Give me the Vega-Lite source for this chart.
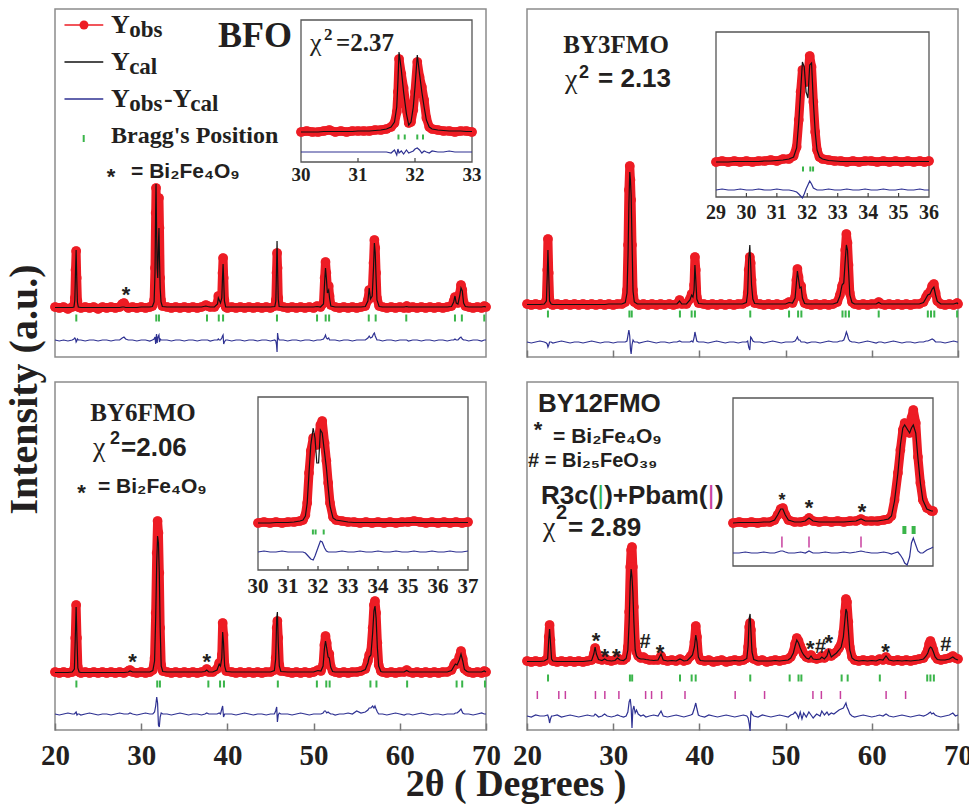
{
"$schema":"https://vega.github.io/schema/vega-lite/v6.json",
"padding":{"left":4,"top":8,"right":0,"bottom":0},
"background":"white",
"config":{"view":{"stroke":"#8c8c8c","strokeWidth":1.5}},
"datasets":{
"tl":[
{"x":20,"o":1,"c":0.5,"d":-32},{"x":20.5,"o":0,"c":0.5,"d":-33},{"x":21,"o":1,"c":0.5,"d":-32},{"x":21.5,"o":-1,"c":0.5,"d":-33},{"x":22,"o":1,"c":0.5,"d":-32},{"x":22.2,"o":2,"c":1,"d":-31},{"x":22.3,"o":10,"c":8,"d":-30},{"x":22.38,"o":38,"c":36,"d":-31},{"x":22.45,"o":57,"c":58,"d":-34},{"x":22.52,"o":30,"c":31,"d":-33},{"x":22.6,"o":7,"c":6,"d":-31},{"x":22.7,"o":1,"c":1,"d":-32},
{"x":23,"o":0,"c":0.5,"d":-32},{"x":23.5,"o":1,"c":0.5,"d":-33},{"x":24,"o":0,"c":0.5,"d":-32},{"x":24.5,"o":1,"c":0.5,"d":-32},{"x":25,"o":-1,"c":0.5,"d":-33},{"x":25.5,"o":1,"c":0.5,"d":-32},{"x":26,"o":0,"c":0.5,"d":-32},{"x":26.5,"o":1,"c":0.5,"d":-33},{"x":27,"o":0,"c":0.5,"d":-32},{"x":27.5,"o":1,"c":0.5,"d":-32},{"x":27.8,"o":4,"c":1,"d":-30},{"x":28,"o":5,"c":1,"d":-29},{"x":28.2,"o":2,"c":0.5,"d":-31},{"x":28.5,"o":0,"c":0.5,"d":-32},{"x":29,"o":1,"c":0.5,"d":-32},{"x":29.5,"o":0,"c":0.5,"d":-33},{"x":30,"o":1,"c":1,"d":-32},{"x":30.5,"o":0,"c":1,"d":-32},{"x":31,"o":1,"c":1,"d":-33},{"x":31.3,"o":2,"c":1.5,"d":-32},
{"x":31.5,"o":8,"c":6,"d":-31},{"x":31.6,"o":40,"c":35,"d":-29},{"x":31.68,"o":95,"c":100,"d":-36},{"x":31.72,"o":120,"c":124,"d":-30},{"x":31.78,"o":90,"c":80,"d":-26},{"x":31.85,"o":55,"c":40,"d":-35},{"x":31.92,"o":45,"c":30,"d":-30},{"x":32,"o":75,"c":65,"d":-28},{"x":32.06,"o":110,"c":80,"d":-27},{"x":32.12,"o":80,"c":50,"d":-34},{"x":32.2,"o":30,"c":20,"d":-31},{"x":32.3,"o":8,"c":6,"d":-32},{"x":32.45,"o":2,"c":1.5,"d":-32},
{"x":33,"o":1,"c":1,"d":-32},{"x":33.5,"o":0,"c":1,"d":-33},{"x":34,"o":1,"c":1,"d":-32},{"x":34.5,"o":0,"c":1,"d":-32},{"x":35,"o":1,"c":1,"d":-33},{"x":35.5,"o":0,"c":1,"d":-32},{"x":36,"o":1,"c":1,"d":-32},{"x":36.5,"o":0,"c":1,"d":-33},{"x":37,"o":1,"c":1,"d":-32},{"x":37.5,"o":3,"c":2,"d":-32},{"x":37.7,"o":2,"c":1.5,"d":-32},{"x":38,"o":1,"c":1,"d":-33},{"x":38.5,"o":1,"c":1,"d":-32},
{"x":38.85,"o":5,"c":4,"d":-32},{"x":38.95,"o":12,"c":10,"d":-31},{"x":39.05,"o":9,"c":8,"d":-32},{"x":39.2,"o":6,"c":5,"d":-32},{"x":39.35,"o":12,"c":10,"d":-30},{"x":39.43,"o":35,"c":30,"d":-28},{"x":39.5,"o":50,"c":44,"d":-27},{"x":39.57,"o":30,"c":28,"d":-36},{"x":39.65,"o":8,"c":7,"d":-34},{"x":39.8,"o":1,"c":1,"d":-32},
{"x":40,"o":0,"c":1,"d":-32},{"x":40.5,"o":1,"c":1,"d":-33},{"x":41,"o":0,"c":1,"d":-32},{"x":41.5,"o":1,"c":1,"d":-32},{"x":42,"o":0,"c":1,"d":-33},{"x":42.5,"o":1,"c":1,"d":-32},{"x":43,"o":0,"c":1,"d":-32},{"x":43.5,"o":1,"c":1,"d":-33},{"x":44,"o":0,"c":1,"d":-32},{"x":44.5,"o":1,"c":1,"d":-32},{"x":45,"o":0,"c":1,"d":-33},{"x":45.5,"o":2,"c":1.5,"d":-32},
{"x":45.62,"o":8,"c":7,"d":-33},{"x":45.7,"o":35,"c":40,"d":-37},{"x":45.76,"o":55,"c":67,"d":-44},{"x":45.82,"o":40,"c":40,"d":-25},{"x":45.9,"o":10,"c":9,"d":-30},{"x":46,"o":2,"c":1.5,"d":-32},
{"x":46.5,"o":1,"c":1,"d":-32},{"x":47,"o":0,"c":1,"d":-33},{"x":47.5,"o":1,"c":1,"d":-32},{"x":48,"o":0,"c":1,"d":-32},{"x":48.5,"o":1,"c":1,"d":-33},{"x":49,"o":0,"c":1,"d":-32},{"x":49.5,"o":1,"c":1,"d":-32},{"x":50,"o":0,"c":1,"d":-33},{"x":50.4,"o":2,"c":1.5,"d":-32},{"x":50.8,"o":1,"c":1,"d":-32},
{"x":51.15,"o":5,"c":4,"d":-31},{"x":51.28,"o":30,"c":26,"d":-29},{"x":51.38,"o":46,"c":40,"d":-27},{"x":51.48,"o":35,"c":30,"d":-30},{"x":51.6,"o":20,"c":15,"d":-31},{"x":51.75,"o":22,"c":18,"d":-30},{"x":51.85,"o":12,"c":10,"d":-32},{"x":52,"o":3,"c":2,"d":-32},
{"x":52.5,"o":1,"c":1,"d":-32},{"x":53,"o":0,"c":1,"d":-33},{"x":53.5,"o":1,"c":1,"d":-32},{"x":54,"o":0,"c":1,"d":-32},{"x":54.5,"o":1,"c":1,"d":-33},{"x":55,"o":0,"c":1,"d":-32},{"x":55.5,"o":1,"c":1,"d":-32},{"x":56,"o":2,"c":1.5,"d":-32},
{"x":56.3,"o":8,"c":7,"d":-30},{"x":56.45,"o":18,"c":20,"d":-28},{"x":56.6,"o":10,"c":9,"d":-30},{"x":56.8,"o":15,"c":12,"d":-29},{"x":56.95,"o":45,"c":40,"d":-26},{"x":57.05,"o":68,"c":65,"d":-25},{"x":57.15,"o":60,"c":55,"d":-28},{"x":57.25,"o":35,"c":30,"d":-30},{"x":57.35,"o":10,"c":8,"d":-32},{"x":57.6,"o":2,"c":1.5,"d":-32},
{"x":58,"o":1,"c":1,"d":-33},{"x":58.5,"o":0,"c":1,"d":-32},{"x":59,"o":1,"c":1,"d":-32},{"x":59.5,"o":0,"c":1,"d":-33},{"x":60,"o":1,"c":1,"d":-32},{"x":60.5,"o":0,"c":1,"d":-32},{"x":60.8,"o":2,"c":1.5,"d":-32},{"x":61,"o":0,"c":1,"d":-33},{"x":61.5,"o":1,"c":1,"d":-32},{"x":62,"o":0,"c":1,"d":-32},{"x":62.5,"o":1,"c":1,"d":-33},{"x":63,"o":0,"c":1,"d":-32},{"x":63.5,"o":1,"c":1,"d":-32},{"x":64,"o":0,"c":1,"d":-33},{"x":64.5,"o":1,"c":1,"d":-32},{"x":65,"o":0,"c":1,"d":-32},{"x":65.5,"o":1,"c":1,"d":-33},{"x":66,"o":2,"c":1.5,"d":-32},
{"x":66.25,"o":7,"c":6,"d":-32},{"x":66.4,"o":11,"c":12,"d":-31},{"x":66.55,"o":6,"c":5,"d":-32},{"x":66.75,"o":5,"c":4,"d":-32},{"x":66.95,"o":14,"c":12,"d":-30},{"x":67.1,"o":23,"c":20,"d":-29},{"x":67.25,"o":18,"c":17,"d":-31},{"x":67.4,"o":6,"c":5,"d":-32},{"x":67.6,"o":2,"c":1.5,"d":-32},
{"x":68,"o":1,"c":1,"d":-33},{"x":68.5,"o":0,"c":1,"d":-32},{"x":69,"o":1,"c":1,"d":-32},{"x":69.5,"o":0,"c":1,"d":-33},{"x":69.8,"o":2,"c":1.5,"d":-32},{"x":70,"o":1,"c":1,"d":-32}],
"tr":[
{"x":20,"o":1,"c":0.5,"d":-37},{"x":20.5,"o":0,"c":0.5,"d":-38},{"x":21,"o":1,"c":0.5,"d":-37},{"x":21.5,"o":0,"c":0.5,"d":-36},{"x":22,"o":1,"c":1,"d":-37},{"x":22.25,"o":5,"c":4,"d":-38},{"x":22.35,"o":35,"c":30,"d":-39},{"x":22.43,"o":66,"c":55,"d":-42},{"x":22.52,"o":32,"c":30,"d":-40},{"x":22.62,"o":5,"c":4,"d":-37},{"x":22.8,"o":1,"c":1,"d":-37},
{"x":23,"o":0,"c":0.5,"d":-38},{"x":23.5,"o":1,"c":0.5,"d":-37},{"x":24,"o":0,"c":0.5,"d":-36},{"x":24.5,"o":1,"c":0.5,"d":-37},{"x":25,"o":0,"c":0.5,"d":-38},{"x":25.5,"o":1,"c":0.5,"d":-37},{"x":26,"o":0,"c":0.5,"d":-37},{"x":26.5,"o":1,"c":0.5,"d":-38},{"x":27,"o":0,"c":0.5,"d":-37},{"x":27.5,"o":1,"c":0.5,"d":-36},{"x":28,"o":0,"c":0.5,"d":-37},{"x":28.5,"o":1,"c":0.5,"d":-38},{"x":29,"o":0,"c":0.5,"d":-37},{"x":29.5,"o":1,"c":1,"d":-37},{"x":30,"o":0,"c":1,"d":-38},{"x":30.5,"o":1,"c":1,"d":-37},{"x":31,"o":1,"c":1,"d":-37},
{"x":31.4,"o":3,"c":2.5,"d":-37},{"x":31.6,"o":15,"c":12,"d":-36},{"x":31.72,"o":60,"c":50,"d":-30},{"x":31.82,"o":115,"c":100,"d":-25},{"x":31.92,"o":139,"c":133,"d":-31},{"x":32,"o":125,"c":125,"d":-44},{"x":32.08,"o":105,"c":110,"d":-49},{"x":32.18,"o":60,"c":65,"d":-40},{"x":32.3,"o":15,"c":14,"d":-35},{"x":32.45,"o":3,"c":3,"d":-37},
{"x":32.8,"o":1,"c":1,"d":-37},{"x":33,"o":0,"c":1,"d":-38},{"x":33.5,"o":1,"c":1,"d":-37},{"x":34,"o":0,"c":1,"d":-36},{"x":34.5,"o":1,"c":1,"d":-37},{"x":35,"o":0,"c":1,"d":-38},{"x":35.5,"o":1,"c":1,"d":-37},{"x":36,"o":0,"c":1,"d":-37},{"x":36.5,"o":1,"c":1,"d":-38},{"x":37,"o":0,"c":1,"d":-37},{"x":37.4,"o":1,"c":1,"d":-37},{"x":37.7,"o":5,"c":4,"d":-36},{"x":37.95,"o":1,"c":1,"d":-37},{"x":38.5,"o":1,"c":1,"d":-37},
{"x":38.9,"o":6,"c":5,"d":-37},{"x":39.1,"o":11,"c":10,"d":-36},{"x":39.25,"o":8,"c":8,"d":-37},{"x":39.38,"o":20,"c":15,"d":-33},{"x":39.48,"o":48,"c":40,"d":-27},{"x":39.58,"o":35,"c":25,"d":-31},{"x":39.7,"o":8,"c":6,"d":-36},{"x":39.9,"o":2,"c":1.5,"d":-37},
{"x":40.5,"o":1,"c":1,"d":-37},{"x":41,"o":0,"c":1,"d":-38},{"x":41.5,"o":1,"c":1,"d":-37},{"x":42,"o":0,"c":1,"d":-36},{"x":42.5,"o":1,"c":1,"d":-37},{"x":43,"o":0,"c":1,"d":-38},{"x":43.5,"o":1,"c":1,"d":-37},{"x":44,"o":0,"c":1,"d":-37},{"x":44.5,"o":1,"c":1,"d":-38},{"x":45,"o":1,"c":1,"d":-37},
{"x":45.45,"o":3,"c":2.5,"d":-37},{"x":45.6,"o":12,"c":12,"d":-36},{"x":45.72,"o":35,"c":45,"d":-42},{"x":45.85,"o":48,"c":60,"d":-45},{"x":45.95,"o":42,"c":40,"d":-32},{"x":46.05,"o":25,"c":20,"d":-33},{"x":46.2,"o":8,"c":6,"d":-36},{"x":46.4,"o":2,"c":1.5,"d":-37},
{"x":47,"o":1,"c":1,"d":-37},{"x":47.5,"o":0,"c":1,"d":-38},{"x":48,"o":1,"c":1,"d":-37},{"x":48.5,"o":0,"c":1,"d":-36},{"x":49,"o":1,"c":1,"d":-37},{"x":49.5,"o":0,"c":1,"d":-38},{"x":50,"o":1,"c":1,"d":-37},{"x":50.4,"o":3,"c":2.5,"d":-37},{"x":50.8,"o":2,"c":2,"d":-37},
{"x":51.1,"o":8,"c":7,"d":-36},{"x":51.25,"o":25,"c":22,"d":-34},{"x":51.37,"o":36,"c":34,"d":-32},{"x":51.5,"o":28,"c":26,"d":-35},{"x":51.65,"o":20,"c":17,"d":-35},{"x":51.8,"o":19,"c":18,"d":-37},{"x":51.95,"o":8,"c":7,"d":-37},{"x":52.2,"o":2,"c":1.5,"d":-37},
{"x":52.5,"o":1,"c":1,"d":-38},{"x":53,"o":0,"c":1,"d":-37},{"x":53.5,"o":1,"c":1,"d":-37},{"x":54,"o":0,"c":1,"d":-38},{"x":54.5,"o":1,"c":1,"d":-37},{"x":55,"o":0,"c":1,"d":-36},{"x":55.5,"o":1,"c":1,"d":-37},{"x":56,"o":3,"c":2.5,"d":-37},
{"x":56.3,"o":10,"c":9,"d":-36},{"x":56.55,"o":19,"c":20,"d":-36},{"x":56.75,"o":25,"c":22,"d":-35},{"x":56.92,"o":55,"c":45,"d":-31},{"x":57.05,"o":71,"c":60,"d":-27},{"x":57.18,"o":62,"c":55,"d":-30},{"x":57.3,"o":40,"c":35,"d":-34},{"x":57.45,"o":12,"c":10,"d":-36},{"x":57.7,"o":3,"c":2.5,"d":-37},
{"x":58,"o":1,"c":1,"d":-37},{"x":58.5,"o":0,"c":1,"d":-38},{"x":59,"o":1,"c":1,"d":-37},{"x":59.5,"o":0,"c":1,"d":-36},{"x":60,"o":1,"c":1,"d":-37},{"x":60.5,"o":1,"c":1,"d":-38},{"x":60.8,"o":3,"c":2.5,"d":-37},{"x":61.1,"o":1,"c":1,"d":-37},{"x":61.5,"o":0,"c":1,"d":-38},{"x":62,"o":1,"c":1,"d":-37},{"x":62.5,"o":0,"c":1,"d":-36},{"x":63,"o":1,"c":1,"d":-37},{"x":63.5,"o":0,"c":1,"d":-38},{"x":64,"o":1,"c":1,"d":-37},{"x":64.5,"o":0,"c":1,"d":-37},{"x":65,"o":1,"c":1,"d":-38},{"x":65.5,"o":1,"c":1,"d":-37},
{"x":66,"o":3,"c":2.5,"d":-37},{"x":66.3,"o":8,"c":7,"d":-36},{"x":66.5,"o":11,"c":10,"d":-36},{"x":66.75,"o":13,"c":11,"d":-35},{"x":67,"o":19,"c":16,"d":-34},{"x":67.2,"o":21,"c":18,"d":-35},{"x":67.4,"o":12,"c":10,"d":-37},{"x":67.6,"o":4,"c":3.5,"d":-37},
{"x":68,"o":1,"c":1,"d":-37},{"x":68.5,"o":0,"c":1,"d":-38},{"x":69,"o":1,"c":1,"d":-37},{"x":69.5,"o":0,"c":1,"d":-36},{"x":69.9,"o":2,"c":2,"d":-37},{"x":70,"o":1,"c":1,"d":-37}],
"bl":[
{"x":20,"o":1,"c":0.5,"d":-41},{"x":20.5,"o":0,"c":0.5,"d":-42},{"x":21,"o":1,"c":0.5,"d":-41},{"x":21.5,"o":0,"c":0.5,"d":-40},{"x":22,"o":1,"c":1,"d":-41},{"x":22.25,"o":5,"c":4,"d":-41},{"x":22.35,"o":35,"c":34,"d":-40},{"x":22.45,"o":68,"c":66,"d":-39},{"x":22.55,"o":35,"c":33,"d":-42},{"x":22.65,"o":6,"c":5,"d":-41},{"x":22.8,"o":1,"c":1,"d":-41},
{"x":23,"o":0,"c":0.5,"d":-42},{"x":23.5,"o":1,"c":0.5,"d":-41},{"x":24,"o":0,"c":0.5,"d":-40},{"x":24.5,"o":1,"c":0.5,"d":-41},{"x":25,"o":0,"c":0.5,"d":-42},{"x":25.5,"o":1,"c":0.5,"d":-41},{"x":26,"o":0,"c":0.5,"d":-41},{"x":26.5,"o":1,"c":0.5,"d":-42},{"x":27,"o":0,"c":0.5,"d":-41},{"x":27.5,"o":1,"c":0.5,"d":-40},{"x":28,"o":0,"c":0.5,"d":-41},{"x":28.5,"o":2,"c":1,"d":-41},{"x":28.7,"o":3,"c":2,"d":-40},{"x":29,"o":1,"c":1,"d":-41},{"x":29.5,"o":0,"c":1,"d":-42},{"x":30,"o":1,"c":1,"d":-41},{"x":30.5,"o":0,"c":1,"d":-40},{"x":31,"o":1,"c":1,"d":-41},
{"x":31.35,"o":3,"c":2.5,"d":-41},{"x":31.55,"o":15,"c":12,"d":-39},{"x":31.68,"o":60,"c":55,"d":-33},{"x":31.8,"o":120,"c":110,"d":-24},{"x":31.9,"o":152,"c":137,"d":-30},{"x":32,"o":140,"c":130,"d":-52},{"x":32.1,"o":100,"c":100,"d":-54},{"x":32.2,"o":45,"c":45,"d":-44},{"x":32.32,"o":8,"c":7,"d":-40},{"x":32.5,"o":2,"c":1.5,"d":-41},
{"x":33,"o":1,"c":1,"d":-41},{"x":33.5,"o":0,"c":1,"d":-42},{"x":34,"o":1,"c":1,"d":-41},{"x":34.5,"o":0,"c":1,"d":-40},{"x":35,"o":1,"c":1,"d":-41},{"x":35.5,"o":0,"c":1,"d":-42},{"x":36,"o":1,"c":1,"d":-41},{"x":36.5,"o":0,"c":1,"d":-41},{"x":37,"o":1,"c":1,"d":-42},{"x":37.4,"o":2,"c":1.5,"d":-41},{"x":37.6,"o":4,"c":3,"d":-40},{"x":37.85,"o":1,"c":1,"d":-41},{"x":38.3,"o":1,"c":1,"d":-41},
{"x":38.8,"o":4,"c":3,"d":-41},{"x":39.05,"o":10,"c":9,"d":-40},{"x":39.2,"o":8,"c":7,"d":-41},{"x":39.35,"o":18,"c":15,"d":-36},{"x":39.45,"o":50,"c":41,"d":-33},{"x":39.55,"o":38,"c":30,"d":-44},{"x":39.68,"o":8,"c":7,"d":-41},{"x":39.85,"o":2,"c":1.5,"d":-41},
{"x":40.5,"o":1,"c":1,"d":-41},{"x":41,"o":0,"c":1,"d":-42},{"x":41.5,"o":1,"c":1,"d":-41},{"x":42,"o":0,"c":1,"d":-40},{"x":42.5,"o":1,"c":1,"d":-41},{"x":43,"o":0,"c":1,"d":-42},{"x":43.5,"o":1,"c":1,"d":-41},{"x":44,"o":0,"c":1,"d":-41},{"x":44.5,"o":1,"c":1,"d":-42},{"x":45,"o":1,"c":1,"d":-41},
{"x":45.45,"o":3,"c":2.5,"d":-41},{"x":45.6,"o":15,"c":14,"d":-38},{"x":45.72,"o":45,"c":55,"d":-34},{"x":45.8,"o":52,"c":61,"d":-49},{"x":45.9,"o":35,"c":30,"d":-42},{"x":46.02,"o":8,"c":7,"d":-40},{"x":46.2,"o":2,"c":1.5,"d":-41},
{"x":47,"o":1,"c":1,"d":-41},{"x":47.5,"o":0,"c":1,"d":-42},{"x":48,"o":1,"c":1,"d":-41},{"x":48.5,"o":0,"c":1,"d":-40},{"x":49,"o":1,"c":1,"d":-41},{"x":49.5,"o":0,"c":1,"d":-42},{"x":50,"o":1,"c":1,"d":-41},{"x":50.5,"o":3,"c":2.5,"d":-41},{"x":50.85,"o":2,"c":2,"d":-41},
{"x":51.1,"o":8,"c":7,"d":-40},{"x":51.25,"o":28,"c":24,"d":-38},{"x":51.38,"o":37,"c":32,"d":-38},{"x":51.52,"o":30,"c":25,"d":-40},{"x":51.68,"o":20,"c":16,"d":-39},{"x":51.82,"o":19,"c":15,"d":-40},{"x":51.98,"o":7,"c":6,"d":-41},{"x":52.2,"o":2,"c":1.5,"d":-41},
{"x":52.5,"o":1,"c":1,"d":-42},{"x":53,"o":0,"c":1,"d":-41},{"x":53.5,"o":1,"c":1,"d":-41},{"x":54,"o":0,"c":1,"d":-40},{"x":54.5,"o":1,"c":1,"d":-41},{"x":55,"o":1,"c":1,"d":-38},{"x":55.5,"o":2,"c":1.5,"d":-40},{"x":56,"o":4,"c":3.5,"d":-39},
{"x":56.3,"o":12,"c":10,"d":-37},{"x":56.45,"o":18,"c":16,"d":-35},{"x":56.65,"o":22,"c":18,"d":-35},{"x":56.85,"o":45,"c":40,"d":-33},{"x":57,"o":68,"c":62,"d":-35},{"x":57.12,"o":72,"c":67,"d":-33},{"x":57.25,"o":60,"c":55,"d":-36},{"x":57.4,"o":30,"c":25,"d":-39},{"x":57.55,"o":8,"c":7,"d":-41},{"x":57.8,"o":2,"c":1.5,"d":-41},
{"x":58,"o":1,"c":1,"d":-41},{"x":58.5,"o":0,"c":1,"d":-42},{"x":59,"o":1,"c":1,"d":-41},{"x":59.5,"o":0,"c":1,"d":-40},{"x":60,"o":1,"c":1,"d":-41},{"x":60.5,"o":1,"c":1,"d":-42},{"x":60.8,"o":3,"c":2.5,"d":-41},{"x":61.1,"o":1,"c":1,"d":-41},{"x":61.5,"o":0,"c":1,"d":-42},{"x":62,"o":1,"c":1,"d":-41},{"x":62.5,"o":0,"c":1,"d":-40},{"x":63,"o":1,"c":1,"d":-41},{"x":63.5,"o":0,"c":1,"d":-42},{"x":64,"o":1,"c":1,"d":-41},{"x":64.5,"o":0,"c":1,"d":-41},{"x":65,"o":1,"c":1,"d":-42},{"x":65.5,"o":1,"c":1,"d":-41},
{"x":66,"o":3,"c":2.5,"d":-41},{"x":66.3,"o":8,"c":7,"d":-41},{"x":66.45,"o":10,"c":9,"d":-40},{"x":66.65,"o":9,"c":8,"d":-40},{"x":66.9,"o":16,"c":13,"d":-38},{"x":67.1,"o":22,"c":19,"d":-36},{"x":67.3,"o":14,"c":12,"d":-40},{"x":67.5,"o":4,"c":3.5,"d":-41},{"x":67.8,"o":2,"c":1.5,"d":-41},
{"x":68,"o":1,"c":1,"d":-41},{"x":68.5,"o":0,"c":1,"d":-42},{"x":69,"o":1,"c":1,"d":-41},{"x":69.5,"o":0,"c":1,"d":-40},{"x":69.8,"o":2,"c":2,"d":-41},{"x":70,"o":1,"c":1,"d":-41}],
"br":[
{"x":20,"o":1,"c":0.5,"d":-54},{"x":20.5,"o":0,"c":0.5,"d":-55},{"x":21,"o":1,"c":0.5,"d":-53},{"x":21.5,"o":0,"c":0.5,"d":-54},{"x":22,"o":1,"c":1,"d":-54},{"x":22.4,"o":4,"c":3,"d":-53},{"x":22.52,"o":25,"c":22,"d":-56},{"x":22.62,"o":37,"c":33,"d":-61},{"x":22.72,"o":22,"c":20,"d":-57},{"x":22.85,"o":4,"c":3,"d":-54},
{"x":23,"o":1,"c":1,"d":-54},{"x":23.5,"o":0,"c":0.5,"d":-53},{"x":24,"o":1,"c":0.5,"d":-55},{"x":24.5,"o":0,"c":0.5,"d":-54},{"x":25,"o":1,"c":0.5,"d":-53},{"x":25.5,"o":0,"c":0.5,"d":-54},{"x":26,"o":1,"c":0.5,"d":-55},{"x":26.5,"o":0,"c":0.5,"d":-54},{"x":27,"o":1,"c":1,"d":-53},{"x":27.5,"o":2,"c":1.5,"d":-54},
{"x":27.75,"o":8,"c":8,"d":-54},{"x":27.9,"o":14,"c":15,"d":-52},{"x":28.05,"o":9,"c":8,"d":-53},{"x":28.3,"o":3,"c":2.5,"d":-55},{"x":28.7,"o":2,"c":1.5,"d":-54},{"x":29,"o":4,"c":3,"d":-52},{"x":29.3,"o":2,"c":1.5,"d":-54},{"x":29.8,"o":1,"c":1,"d":-55},{"x":30.2,"o":2,"c":1.5,"d":-54},{"x":30.5,"o":4,"c":4,"d":-53},{"x":30.8,"o":2,"c":2,"d":-54},{"x":31.2,"o":2,"c":1.5,"d":-55},
{"x":31.5,"o":4,"c":3.5,"d":-54},{"x":31.7,"o":15,"c":12,"d":-50},{"x":31.85,"o":50,"c":40,"d":-40},{"x":31.98,"o":95,"c":80,"d":-37},{"x":32.08,"o":112,"c":93,"d":-45},{"x":32.18,"o":115,"c":85,"d":-66},{"x":32.28,"o":95,"c":70,"d":-48},{"x":32.4,"o":55,"c":40,"d":-44},{"x":32.55,"o":20,"c":12,"d":-51},{"x":32.7,"o":10,"c":6,"d":-48},{"x":32.9,"o":6,"c":4,"d":-52},
{"x":33.2,"o":4,"c":3,"d":-54},{"x":33.5,"o":5,"c":3,"d":-53},{"x":33.8,"o":3,"c":2.5,"d":-55},{"x":34.2,"o":2,"c":2,"d":-54},{"x":34.7,"o":2,"c":1.5,"d":-53},{"x":35.2,"o":2,"c":2,"d":-54},{"x":35.55,"o":6,"c":8,"d":-49},{"x":35.8,"o":2,"c":2,"d":-54},{"x":36.3,"o":1,"c":1,"d":-55},{"x":36.8,"o":2,"c":1.5,"d":-54},{"x":37.3,"o":1,"c":1,"d":-53},{"x":37.75,"o":3,"c":3,"d":-54},{"x":38.2,"o":1,"c":1,"d":-55},{"x":38.6,"o":2,"c":1.5,"d":-54},
{"x":39,"o":6,"c":5,"d":-53},{"x":39.2,"o":8,"c":7,"d":-52},{"x":39.42,"o":20,"c":15,"d":-46},{"x":39.58,"o":36,"c":27,"d":-41},{"x":39.72,"o":25,"c":20,"d":-47},{"x":39.88,"o":6,"c":5,"d":-53},{"x":40.1,"o":2,"c":1.5,"d":-54},
{"x":40.6,"o":1,"c":1,"d":-55},{"x":41.1,"o":2,"c":1,"d":-53},{"x":41.6,"o":0,"c":1,"d":-54},{"x":42.1,"o":1,"c":1,"d":-55},{"x":42.6,"o":2,"c":1,"d":-54},{"x":43.1,"o":0,"c":1,"d":-53},{"x":43.6,"o":1,"c":1,"d":-54},{"x":44.1,"o":2,"c":1.5,"d":-55},{"x":44.6,"o":1,"c":1,"d":-54},{"x":45.1,"o":2,"c":1.5,"d":-53},
{"x":45.5,"o":4,"c":3.5,"d":-54},{"x":45.65,"o":15,"c":16,"d":-56},{"x":45.78,"o":35,"c":44,"d":-62},{"x":45.88,"o":39,"c":48,"d":-69},{"x":45.98,"o":32,"c":30,"d":-49},{"x":46.1,"o":12,"c":10,"d":-52},{"x":46.3,"o":3,"c":2.5,"d":-54},
{"x":46.8,"o":1,"c":1,"d":-55},{"x":47.3,"o":2,"c":1,"d":-53},{"x":47.8,"o":0,"c":1,"d":-54},{"x":48.3,"o":1,"c":1,"d":-55},{"x":48.8,"o":2,"c":1.5,"d":-54},{"x":49.3,"o":1,"c":1,"d":-53},{"x":49.8,"o":2,"c":1.5,"d":-54},{"x":50.3,"o":3,"c":2,"d":-55},
{"x":50.6,"o":5,"c":4,"d":-53},{"x":50.9,"o":10,"c":9,"d":-52},{"x":51.1,"o":18,"c":16,"d":-50},{"x":51.3,"o":24,"c":22,"d":-52},{"x":51.5,"o":21,"c":19,"d":-56},{"x":51.7,"o":16,"c":14,"d":-50},{"x":51.9,"o":12,"c":10,"d":-57},{"x":52.1,"o":8,"c":7,"d":-51},{"x":52.4,"o":5,"c":4,"d":-55},{"x":52.7,"o":4,"c":3,"d":-50},{"x":52.95,"o":7,"c":6,"d":-53},{"x":53.2,"o":4,"c":3,"d":-56},{"x":53.6,"o":3,"c":2.5,"d":-52},{"x":54,"o":4,"c":3,"d":-54},{"x":54.2,"o":6,"c":5,"d":-49},{"x":54.5,"o":4,"c":3,"d":-53},{"x":54.8,"o":6,"c":6,"d":-50},{"x":55,"o":9,"c":12,"d":-53},{"x":55.3,"o":6,"c":5,"d":-51},{"x":55.6,"o":8,"c":7,"d":-52},{"x":55.9,"o":10,"c":9,"d":-50},
{"x":56.2,"o":14,"c":12,"d":-48},{"x":56.45,"o":18,"c":15,"d":-47},{"x":56.7,"o":30,"c":25,"d":-46},{"x":56.88,"o":50,"c":42,"d":-43},{"x":57,"o":63,"c":53,"d":-41},{"x":57.12,"o":60,"c":50,"d":-45},{"x":57.28,"o":40,"c":32,"d":-48},{"x":57.45,"o":15,"c":12,"d":-52},{"x":57.7,"o":5,"c":4,"d":-54},
{"x":58,"o":2,"c":2,"d":-55},{"x":58.5,"o":1,"c":1,"d":-54},{"x":59,"o":2,"c":1.5,"d":-53},{"x":59.5,"o":1,"c":1,"d":-54},{"x":60,"o":2,"c":1.5,"d":-55},{"x":60.5,"o":1,"c":1,"d":-54},{"x":60.9,"o":3,"c":2.5,"d":-53},{"x":61.3,"o":2,"c":2,"d":-54},{"x":61.65,"o":5,"c":6,"d":-52},{"x":62,"o":2,"c":2,"d":-54},{"x":62.5,"o":1,"c":1,"d":-55},{"x":63,"o":2,"c":1.5,"d":-54},{"x":63.5,"o":1,"c":1,"d":-53},{"x":64,"o":2,"c":1.5,"d":-54},{"x":64.5,"o":1,"c":1,"d":-55},{"x":65,"o":2,"c":1.5,"d":-54},{"x":65.5,"o":3,"c":2,"d":-53},
{"x":66,"o":4,"c":3,"d":-54},{"x":66.3,"o":8,"c":6,"d":-53},{"x":66.5,"o":12,"c":9,"d":-52},{"x":66.65,"o":18,"c":13,"d":-51},{"x":66.8,"o":21,"c":15,"d":-50},{"x":66.95,"o":17,"c":14,"d":-52},{"x":67.15,"o":12,"c":10,"d":-51},{"x":67.35,"o":6,"c":5,"d":-53},{"x":67.6,"o":3,"c":2.5,"d":-54},
{"x":68,"o":2,"c":2,"d":-55},{"x":68.5,"o":3,"c":2,"d":-54},{"x":69,"o":4,"c":3,"d":-53},{"x":69.4,"o":6,"c":5,"d":-51},{"x":69.7,"o":4,"c":3,"d":-54},{"x":70,"o":3,"c":2,"d":-53}],
"tli":[
{"x":30,"o":0,"c":0,"d":-20},{"x":30.1,"o":1,"c":0,"d":-20},{"x":30.2,"o":0,"c":0,"d":-20},{"x":30.3,"o":0,"c":0,"d":-20},{"x":30.4,"o":1,"c":0.5,"d":-20},{"x":30.5,"o":2,"c":0.5,"d":-20},{"x":30.6,"o":0,"c":0.5,"d":-20},{"x":30.7,"o":1,"c":0.5,"d":-20},{"x":30.8,"o":0,"c":0.5,"d":-20},{"x":30.9,"o":1,"c":0.5,"d":-20},{"x":31,"o":1,"c":1,"d":-20},{"x":31.1,"o":1,"c":1,"d":-20},{"x":31.2,"o":1,"c":1,"d":-20},{"x":31.3,"o":2,"c":1.5,"d":-20},{"x":31.4,"o":2,"c":2,"d":-20},{"x":31.5,"o":3,"c":3,"d":-20},
{"x":31.58,"o":5,"c":5,"d":-21},{"x":31.64,"o":9,"c":10,"d":-18},{"x":31.68,"o":20,"c":25,"d":-23},{"x":31.7,"o":40,"c":50,"d":-17},{"x":31.72,"o":73,"c":80,"d":-21},{"x":31.76,"o":58,"c":62,"d":-19},{"x":31.8,"o":44,"c":40,"d":-22},{"x":31.85,"o":22,"c":18,"d":-18},{"x":31.89,"o":9,"c":7,"d":-21},{"x":31.93,"o":10,"c":10,"d":-20},{"x":31.97,"o":22,"c":25,"d":-19},{"x":32,"o":40,"c":45,"d":-17},{"x":32.04,"o":70,"c":77,"d":-16},{"x":32.08,"o":55,"c":58,"d":-18},{"x":32.12,"o":45,"c":40,"d":-21},{"x":32.16,"o":32,"c":25,"d":-19},{"x":32.2,"o":14,"c":12,"d":-20},{"x":32.25,"o":5,"c":5,"d":-21},{"x":32.3,"o":3,"c":3,"d":-19},
{"x":32.4,"o":2,"c":2,"d":-20},{"x":32.5,"o":1,"c":1.5,"d":-20},{"x":32.6,"o":1,"c":1,"d":-19},{"x":32.7,"o":0,"c":1,"d":-20},{"x":32.8,"o":1,"c":1,"d":-20},{"x":32.9,"o":1,"c":0.5,"d":-20},{"x":33,"o":0,"c":0.5,"d":-20}],
"tri":[
{"x":29,"o":0,"c":0,"d":-28},{"x":29.2,"o":1,"c":0,"d":-27},{"x":29.4,"o":0,"c":0,"d":-28},{"x":29.6,"o":1,"c":0.5,"d":-28},{"x":29.8,"o":0,"c":0.5,"d":-27},{"x":30,"o":1,"c":0.5,"d":-28},{"x":30.2,"o":0,"c":0.5,"d":-28},{"x":30.4,"o":1,"c":0.5,"d":-27},{"x":30.6,"o":1,"c":1,"d":-28},{"x":30.8,"o":2,"c":1,"d":-28},{"x":31,"o":1,"c":1.5,"d":-27},{"x":31.2,"o":3,"c":2,"d":-28},{"x":31.4,"o":3,"c":3,"d":-28},
{"x":31.55,"o":6,"c":5,"d":-29},{"x":31.65,"o":15,"c":14,"d":-30},{"x":31.72,"o":42,"c":40,"d":-32},{"x":31.78,"o":70,"c":70,"d":-34},{"x":31.84,"o":92,"c":100,"d":-36},{"x":31.9,"o":88,"c":95,"d":-32},{"x":31.96,"o":80,"c":70,"d":-27},{"x":32.02,"o":85,"c":64,"d":-23},{"x":32.08,"o":106,"c":97,"d":-19},{"x":32.14,"o":95,"c":99,"d":-22},{"x":32.2,"o":60,"c":60,"d":-26},{"x":32.26,"o":30,"c":30,"d":-27},{"x":32.32,"o":12,"c":12,"d":-28},{"x":32.4,"o":5,"c":5,"d":-28},{"x":32.5,"o":3,"c":3,"d":-28},
{"x":32.7,"o":2,"c":1.5,"d":-27},{"x":32.9,"o":1,"c":1,"d":-28},{"x":33.1,"o":1,"c":0.5,"d":-28},{"x":33.3,"o":0,"c":0.5,"d":-27},{"x":33.5,"o":1,"c":0.5,"d":-28},{"x":33.7,"o":0,"c":0.5,"d":-28},{"x":33.9,"o":1,"c":0.5,"d":-27},{"x":34.1,"o":1,"c":0.5,"d":-28},{"x":34.3,"o":0,"c":0.5,"d":-28},{"x":34.5,"o":1,"c":0.5,"d":-27},{"x":34.7,"o":0,"c":0.5,"d":-28},{"x":34.9,"o":1,"c":0.5,"d":-28},{"x":35.1,"o":0,"c":0.5,"d":-27},{"x":35.3,"o":1,"c":0.5,"d":-28},{"x":35.5,"o":0,"c":0.5,"d":-28},{"x":35.7,"o":1,"c":0.5,"d":-27},{"x":35.85,"o":0,"c":0.5,"d":-28},{"x":36,"o":1,"c":0.5,"d":-28}],
"bli":[
{"x":30,"o":0,"c":0,"d":-29},{"x":30.2,"o":1,"c":0,"d":-28},{"x":30.4,"o":0,"c":0,"d":-29},{"x":30.6,"o":1,"c":0.5,"d":-29},{"x":30.8,"o":0,"c":0.5,"d":-28},{"x":31,"o":1,"c":0.5,"d":-29},{"x":31.2,"o":1,"c":1,"d":-29},{"x":31.4,"o":2,"c":2,"d":-29},{"x":31.5,"o":3,"c":3,"d":-29},
{"x":31.58,"o":8,"c":7,"d":-30},{"x":31.64,"o":20,"c":20,"d":-32},{"x":31.7,"o":50,"c":50,"d":-34},{"x":31.76,"o":72,"c":78,"d":-36},{"x":31.84,"o":85,"c":95,"d":-37},{"x":31.9,"o":82,"c":85,"d":-33},{"x":31.96,"o":78,"c":60,"d":-28},{"x":32.02,"o":85,"c":60,"d":-23},{"x":32.08,"o":98,"c":93,"d":-18},{"x":32.14,"o":102,"c":90,"d":-19},{"x":32.22,"o":80,"c":70,"d":-25},{"x":32.28,"o":62,"c":55,"d":-28},{"x":32.34,"o":40,"c":35,"d":-29},{"x":32.4,"o":20,"c":17,"d":-29},{"x":32.5,"o":6,"c":5,"d":-29},{"x":32.6,"o":3,"c":3,"d":-29},
{"x":32.8,"o":2,"c":2,"d":-28},{"x":33,"o":1,"c":1,"d":-29},{"x":33.2,"o":1,"c":0.5,"d":-29},{"x":33.4,"o":0,"c":0.5,"d":-28},{"x":33.6,"o":1,"c":0.5,"d":-29},{"x":33.8,"o":0,"c":0.5,"d":-29},{"x":34,"o":1,"c":0.5,"d":-28},{"x":34.2,"o":0,"c":0.5,"d":-29},{"x":34.4,"o":1,"c":0.5,"d":-29},{"x":34.6,"o":0,"c":0.5,"d":-28},{"x":34.8,"o":1,"c":0.5,"d":-29},{"x":35,"o":1,"c":0.5,"d":-29},{"x":35.2,"o":2,"c":0.5,"d":-28},{"x":35.4,"o":1,"c":0.5,"d":-29},{"x":35.6,"o":0,"c":0.5,"d":-29},{"x":35.8,"o":1,"c":0.5,"d":-28},{"x":36,"o":0,"c":0.5,"d":-29},{"x":36.2,"o":1,"c":0.5,"d":-29},{"x":36.4,"o":0,"c":0.5,"d":-28},{"x":36.6,"o":1,"c":0.5,"d":-29},{"x":36.8,"o":0,"c":0.5,"d":-29},{"x":37,"o":1,"c":0.5,"d":-28}],
"bri":[
{"x":26.5,"o":0,"c":0,"d":-30},{"x":26.7,"o":1,"c":0.5,"d":-30},{"x":26.9,"o":0,"c":0.5,"d":-29},{"x":27.1,"o":1,"c":0.5,"d":-30},{"x":27.3,"o":0,"c":0.5,"d":-30},{"x":27.5,"o":1,"c":1,"d":-29},{"x":27.7,"o":1,"c":1,"d":-30},{"x":27.85,"o":3,"c":3,"d":-30},{"x":27.95,"o":8,"c":8,"d":-29},{"x":28.05,"o":14,"c":14,"d":-28},{"x":28.12,"o":15,"c":14,"d":-28},{"x":28.2,"o":8,"c":8,"d":-29},{"x":28.3,"o":3,"c":3,"d":-30},{"x":28.5,"o":1,"c":1,"d":-30},{"x":28.7,"o":1,"c":1,"d":-29},{"x":28.85,"o":2,"c":2,"d":-30},{"x":28.97,"o":5,"c":5,"d":-28},{"x":29.1,"o":2,"c":2,"d":-30},{"x":29.3,"o":1,"c":1,"d":-30},{"x":29.5,"o":2,"c":1,"d":-29},{"x":29.7,"o":1,"c":1,"d":-30},{"x":29.9,"o":2,"c":1,"d":-30},{"x":30.1,"o":1,"c":1,"d":-29},{"x":30.3,"o":2,"c":1.5,"d":-30},{"x":30.5,"o":2,"c":2,"d":-29},{"x":30.66,"o":4,"c":4,"d":-28},{"x":30.8,"o":2,"c":2,"d":-29},{"x":31,"o":2,"c":2,"d":-30},{"x":31.2,"o":2,"c":2,"d":-30},{"x":31.4,"o":3,"c":3,"d":-29},{"x":31.55,"o":4,"c":4,"d":-30},
{"x":31.65,"o":7,"c":7,"d":-31},{"x":31.75,"o":23,"c":22,"d":-30},{"x":31.86,"o":50,"c":50,"d":-29},{"x":31.94,"o":73,"c":78,"d":-32},{"x":32.02,"o":93,"c":95,"d":-36},{"x":32.08,"o":100,"c":98,"d":-40},{"x":32.16,"o":95,"c":94,"d":-42},{"x":32.24,"o":90,"c":90,"d":-34},{"x":32.3,"o":105,"c":95,"d":-20},{"x":32.36,"o":113,"c":98,"d":-15},{"x":32.44,"o":100,"c":90,"d":-22},{"x":32.51,"o":66,"c":65,"d":-28},{"x":32.59,"o":40,"c":40,"d":-30},{"x":32.67,"o":23,"c":23,"d":-30},{"x":32.8,"o":15,"c":14,"d":-27},{"x":32.95,"o":12,"c":12,"d":-25},{"x":33,"o":12,"c":12,"d":-24}]
},
"title":{"text":"2θ ( Degrees )","orient":"bottom","anchor":"middle","font":"Liberation Serif","fontSize":38,"fontWeight":"bold","color":"#231f20","offset":-5,"dx":27},
"vconcat":[{
"title":{"text":"Intensity (a.u.)","orient":"left","anchor":"middle","font":"Liberation Serif","fontSize":40,"fontWeight":"bold","color":"#231f20","offset":-5},
"columns":2,
"bounds":"flush",
"spacing":{"row":25,"column":41},
"concat":[
{"width":431,"height":348,"resolve":{"scale":{"x":"independent","y":"independent"}},
"layer":[
{"encoding":{"x":{"field":"x","type":"quantitative","scale":{"domain":[20,70]},"axis":{"orient":"bottom","title":null,"values":[20,30,40,50,60,70],"domain":false,"grid":false,"tickSize":-7,"tickColor":"#777777","tickWidth":1.5,"labels":false}}},
"layer":[
{"data":{"name":"tl"},"mark":{"type":"line","color":"#ed1c24","strokeWidth":9,"strokeJoin":"round","strokeCap":"round"},"encoding":{"y":{"field":"o","type":"quantitative","scale":{"domain":[-49,299]},"axis":null}}},
{"data":{"name":"tl"},"mark":{"type":"point","filled":true,"color":"#ed1c24","size":95,"opacity":1},"encoding":{"y":{"field":"o","type":"quantitative","scale":{"domain":[-49,299]},"axis":null}}},
{"data":{"name":"tl"},"mark":{"type":"line","color":"#111111","strokeWidth":1.2},"encoding":{"y":{"field":"c","type":"quantitative","scale":{"domain":[-49,299]},"axis":null}}},
{"data":{"name":"tl"},"mark":{"type":"line","color":"#2e3192","strokeWidth":1.2},"encoding":{"y":{"field":"d","type":"quantitative","scale":{"domain":[-49,299]},"axis":null}}},
{"data":{"values":[{"x":22.47,"y":-10},{"x":31.75,"y":-10},{"x":32.06,"y":-10},{"x":37.63,"y":-10},{"x":39.0,"y":-10},{"x":39.5,"y":-10},{"x":45.75,"y":-10},{"x":50.4,"y":-10},{"x":51.4,"y":-10},{"x":51.8,"y":-10},{"x":56.4,"y":-10},{"x":57.2,"y":-10},{"x":60.75,"y":-10},{"x":66.4,"y":-10},{"x":67.2,"y":-10},{"x":69.8,"y":-10},{"x":23.33,"y":169.5}]},"mark":{"type":"tick","orient":"vertical","color":"#3ab54a","thickness":2,"size":7,"opacity":1},"encoding":{"y":{"field":"y","type":"quantitative","scale":{"domain":[-49,299]},"axis":null}}},
{"data":{"values":[{"a":21.1,"b":25.6,"y":283,"k":"obs"},{"a":21.1,"b":25.6,"y":246,"k":"cal"},{"a":21.1,"b":25.6,"y":209,"k":"dif"}]},"mark":{"type":"rule","strokeWidth":1.5},"encoding":{"x":{"field":"a","type":"quantitative","scale":{"domain":[20,70]},"axis":null},"x2":{"field":"b"},"y":{"field":"y","type":"quantitative","scale":{"domain":[-49,299]},"axis":null},"color":{"field":"k","type":"nominal","scale":{"domain":["obs","cal","dif"],"range":["#ed1c24","#111111","#2e3192"]},"legend":null}}},
{"data":{"values":[{"x":23.36,"y":283}]},"mark":{"type":"point","filled":true,"color":"#ed1c24","size":80,"opacity":1},"encoding":{"y":{"field":"y","type":"quantitative","scale":{"domain":[-49,299]},"axis":null}}},
{"data":{"values":[{"x":43.2,"y":261,"t":"BFO"}]},"mark":{"type":"text","font":"Liberation Serif","fontSize":36,"fontWeight":"bold","align":"center","baseline":"alphabetic","color":"#231f20"},"encoding":{"y":{"field":"y","type":"quantitative","scale":{"domain":[-49,299]},"axis":null},"text":{"field":"t"}}},
{"data":{"values":[{"x":26.5,"y":275,"t":"Y"},{"x":26.5,"y":238,"t":"Y"},{"x":26.5,"y":201,"t":"Y"},{"x":32.65,"y":201,"t":"-Y"}]},"mark":{"type":"text","font":"Liberation Serif","fontSize":26,"fontWeight":"bold","align":"left","baseline":"alphabetic","color":"#231f20"},"encoding":{"y":{"field":"y","type":"quantitative","scale":{"domain":[-49,299]},"axis":null},"text":{"field":"t"}}},
{"data":{"values":[{"x":28.6,"y":271,"t":"obs"},{"x":28.6,"y":234,"t":"cal"},{"x":28.6,"y":197,"t":"obs"},{"x":35.7,"y":197,"t":"cal"}]},"mark":{"type":"text","font":"Liberation Serif","fontSize":23,"fontWeight":"bold","align":"left","baseline":"alphabetic","color":"#231f20"},"encoding":{"y":{"field":"y","type":"quantitative","scale":{"domain":[-49,299]},"axis":null},"text":{"field":"t"}}},
{"data":{"values":[{"x":26.5,"y":165,"t":"Bragg's Position"}]},"mark":{"type":"text","font":"Liberation Serif","fontSize":24,"fontWeight":"bold","align":"left","baseline":"alphabetic","color":"#231f20"},"encoding":{"y":{"field":"y","type":"quantitative","scale":{"domain":[-49,299]},"axis":null},"text":{"field":"t"}}},
{"data":{"values":[{"x":28.82,"y":130,"t":"= Bi₂Fe₄O₉"}]},"mark":{"type":"text","font":"Liberation Sans","fontSize":21,"fontWeight":"bold","align":"left","baseline":"alphabetic","color":"#231f20"},"encoding":{"y":{"field":"y","type":"quantitative","scale":{"domain":[-49,299]},"axis":null},"text":{"field":"t"}}},
{"data":{"values":[{"x":26.5,"y":124,"t":"*"},{"x":28.24,"y":6,"t":"*"}]},"mark":{"type":"text","font":"Liberation Sans","fontSize":22,"fontWeight":"bold","align":"center","baseline":"alphabetic","color":"#231f20"},"encoding":{"y":{"field":"y","type":"quantitative","scale":{"domain":[-49,299]},"axis":null},"text":{"field":"t"}}},
{"data":{"values":[{"x":49.58,"y":257,"t":"χ"}]},"mark":{"type":"text","font":"Liberation Serif","fontSize":26,"align":"left","baseline":"alphabetic","color":"#231f20"},"encoding":{"y":{"field":"y","type":"quantitative","scale":{"domain":[-49,299]},"axis":null},"text":{"field":"t"}}},
{"data":{"values":[{"x":51.2,"y":268,"t":"2"}]},"mark":{"type":"text","font":"Liberation Serif","fontSize":17,"fontWeight":"bold","align":"left","baseline":"alphabetic","color":"#231f20"},"encoding":{"y":{"field":"y","type":"quantitative","scale":{"domain":[-49,299]},"axis":null},"text":{"field":"t"}}},
{"data":{"values":[{"x":52.6,"y":257,"t":"=2.37"}]},"mark":{"type":"text","font":"Liberation Serif","fontSize":25,"fontWeight":"bold","align":"left","baseline":"alphabetic","color":"#231f20"},"encoding":{"y":{"field":"y","type":"quantitative","scale":{"domain":[-49,299]},"axis":null},"text":{"field":"t"}}}
]},
{"encoding":{"x":{"field":"x","type":"quantitative","scale":{"domain":[30,33],"range":[246,417]},"axis":null}},
"layer":[
{"data":{"values":[{"a":30,"b":33,"lo":-30,"hi":112}]},"mark":{"type":"rect","fillOpacity":0,"stroke":"#555555","strokeWidth":1.3},"encoding":{"x":{"field":"a","type":"quantitative","scale":{"domain":[30,33],"range":[246,417]},"axis":null},"x2":{"field":"b"},"y":{"field":"lo","type":"quantitative","scale":{"domain":[-30,112],"range":[153,11]},"axis":null},"y2":{"field":"hi"}}},
{"data":{"name":"tli"},"mark":{"type":"line","color":"#ed1c24","strokeWidth":9,"strokeJoin":"round","strokeCap":"round"},"encoding":{"y":{"field":"o","type":"quantitative","scale":{"domain":[-30,112],"range":[153,11]},"axis":null}}},
{"data":{"name":"tli"},"mark":{"type":"point","filled":true,"color":"#ed1c24","size":95,"opacity":1},"encoding":{"y":{"field":"o","type":"quantitative","scale":{"domain":[-30,112],"range":[153,11]},"axis":null}}},
{"data":{"name":"tli"},"mark":{"type":"line","color":"#111111","strokeWidth":1.2},"encoding":{"y":{"field":"c","type":"quantitative","scale":{"domain":[-30,112],"range":[153,11]},"axis":null}}},
{"data":{"name":"tli"},"mark":{"type":"line","color":"#2e3192","strokeWidth":1.2},"encoding":{"y":{"field":"d","type":"quantitative","scale":{"domain":[-30,112],"range":[153,11]},"axis":null}}},
{"data":{"values":[{"x":31.71,"y":-5},{"x":31.82,"y":-5},{"x":32.04,"y":-5},{"x":32.14,"y":-5}]},"mark":{"type":"tick","orient":"vertical","color":"#3ab54a","thickness":2,"size":5,"opacity":1},"encoding":{"y":{"field":"y","type":"quantitative","scale":{"domain":[-30,112],"range":[153,11]},"axis":null}}},
{"data":{"values":[{"x":31,"y":-28},{"x":32,"y":-28}]},"mark":{"type":"tick","orient":"vertical","color":"#444444","thickness":1.2,"size":4,"opacity":1},"encoding":{"y":{"field":"y","type":"quantitative","scale":{"domain":[-30,112],"range":[153,11]},"axis":null}}},
{"data":{"values":[{"x":30,"y":-33.5,"t":"30"},{"x":31,"y":-33.5,"t":"31"},{"x":32,"y":-33.5,"t":"32"},{"x":33,"y":-33.5,"t":"33"}]},"mark":{"type":"text","font":"Liberation Serif","fontSize":19,"fontWeight":"bold","align":"center","baseline":"top","color":"#231f20"},"encoding":{"y":{"field":"y","type":"quantitative","scale":{"domain":[-30,112],"range":[153,11]},"axis":null},"text":{"field":"t"}}}
]}
]},
{"width":431,"height":348,"resolve":{"scale":{"x":"independent","y":"independent"}},
"layer":[
{"encoding":{"x":{"field":"x","type":"quantitative","scale":{"domain":[20,70]},"axis":{"orient":"bottom","title":null,"values":[20,30,40,50,60,70],"domain":false,"grid":false,"tickSize":-7,"tickColor":"#777777","tickWidth":1.5,"labels":false}}},
"layer":[
{"data":{"name":"tr"},"mark":{"type":"line","color":"#ed1c24","strokeWidth":9,"strokeJoin":"round","strokeCap":"round"},"encoding":{"y":{"field":"o","type":"quantitative","scale":{"domain":[-52,296]},"axis":null}}},
{"data":{"name":"tr"},"mark":{"type":"point","filled":true,"color":"#ed1c24","size":95,"opacity":1},"encoding":{"y":{"field":"o","type":"quantitative","scale":{"domain":[-52,296]},"axis":null}}},
{"data":{"name":"tr"},"mark":{"type":"line","color":"#111111","strokeWidth":1.2},"encoding":{"y":{"field":"c","type":"quantitative","scale":{"domain":[-52,296]},"axis":null}}},
{"data":{"name":"tr"},"mark":{"type":"line","color":"#2e3192","strokeWidth":1.2},"encoding":{"y":{"field":"d","type":"quantitative","scale":{"domain":[-52,296]},"axis":null}}},
{"data":{"values":[{"x":22.43,"y":-9},{"x":31.88,"y":-9},{"x":32.15,"y":-9},{"x":37.74,"y":-9},{"x":39.1,"y":-9},{"x":39.48,"y":-9},{"x":45.9,"y":-9},{"x":50.4,"y":-9},{"x":51.45,"y":-9},{"x":51.83,"y":-9},{"x":56.6,"y":-9},{"x":56.96,"y":-9},{"x":57.35,"y":-9},{"x":60.8,"y":-9},{"x":66.5,"y":-9},{"x":66.87,"y":-9},{"x":67.25,"y":-9},{"x":69.9,"y":-9}]},"mark":{"type":"tick","orient":"vertical","color":"#3ab54a","thickness":2,"size":7,"opacity":1},"encoding":{"y":{"field":"y","type":"quantitative","scale":{"domain":[-52,296]},"axis":null}}},
{"data":{"values":[{"x":30.33,"y":252,"t":"BY3FMO"}]},"mark":{"type":"text","font":"Liberation Serif","fontSize":25,"fontWeight":"bold","align":"center","baseline":"alphabetic","color":"#231f20"},"encoding":{"y":{"field":"y","type":"quantitative","scale":{"domain":[-52,296]},"axis":null},"text":{"field":"t"}}},
{"data":{"values":[{"x":24.41,"y":217,"t":"χ"}]},"mark":{"type":"text","font":"Liberation Serif","fontSize":28,"align":"left","baseline":"alphabetic","color":"#231f20"},"encoding":{"y":{"field":"y","type":"quantitative","scale":{"domain":[-52,296]},"axis":null},"text":{"field":"t"}}},
{"data":{"values":[{"x":26.03,"y":227,"t":"2"}]},"mark":{"type":"text","font":"Liberation Sans","fontSize":18,"fontWeight":"bold","align":"left","baseline":"alphabetic","color":"#231f20"},"encoding":{"y":{"field":"y","type":"quantitative","scale":{"domain":[-52,296]},"axis":null},"text":{"field":"t"}}},
{"data":{"values":[{"x":28.24,"y":218,"t":"= 2.13"}]},"mark":{"type":"text","font":"Liberation Sans","fontSize":26,"fontWeight":"bold","align":"left","baseline":"alphabetic","color":"#231f20"},"encoding":{"y":{"field":"y","type":"quantitative","scale":{"domain":[-52,296]},"axis":null},"text":{"field":"t"}}}
]},
{"encoding":{"x":{"field":"x","type":"quantitative","scale":{"domain":[29,36],"range":[189,402]},"axis":null}},
"layer":[
{"data":{"values":[{"a":29,"b":36,"lo":-35,"hi":130}]},"mark":{"type":"rect","fillOpacity":0,"stroke":"#555555","strokeWidth":1.3},"encoding":{"x":{"field":"a","type":"quantitative","scale":{"domain":[29,36],"range":[189,402]},"axis":null},"x2":{"field":"b"},"y":{"field":"lo","type":"quantitative","scale":{"domain":[-35,130],"range":[188,23]},"axis":null},"y2":{"field":"hi"}}},
{"data":{"name":"tri"},"mark":{"type":"line","color":"#ed1c24","strokeWidth":9,"strokeJoin":"round","strokeCap":"round"},"encoding":{"y":{"field":"o","type":"quantitative","scale":{"domain":[-35,130],"range":[188,23]},"axis":null}}},
{"data":{"name":"tri"},"mark":{"type":"point","filled":true,"color":"#ed1c24","size":95,"opacity":1},"encoding":{"y":{"field":"o","type":"quantitative","scale":{"domain":[-35,130],"range":[188,23]},"axis":null}}},
{"data":{"name":"tri"},"mark":{"type":"line","color":"#111111","strokeWidth":1.2},"encoding":{"y":{"field":"c","type":"quantitative","scale":{"domain":[-35,130],"range":[188,23]},"axis":null}}},
{"data":{"name":"tri"},"mark":{"type":"line","color":"#2e3192","strokeWidth":1.2},"encoding":{"y":{"field":"d","type":"quantitative","scale":{"domain":[-35,130],"range":[188,23]},"axis":null}}},
{"data":{"values":[{"x":31.86,"y":-7},{"x":32.1,"y":-7},{"x":32.19,"y":-7}]},"mark":{"type":"tick","orient":"vertical","color":"#3ab54a","thickness":2,"size":5,"opacity":1},"encoding":{"y":{"field":"y","type":"quantitative","scale":{"domain":[-35,130],"range":[188,23]},"axis":null}}},
{"data":{"values":[{"x":30,"y":-33},{"x":31,"y":-33},{"x":32,"y":-33},{"x":33,"y":-33},{"x":34,"y":-33},{"x":35,"y":-33}]},"mark":{"type":"tick","orient":"vertical","color":"#444444","thickness":1.2,"size":4,"opacity":1},"encoding":{"y":{"field":"y","type":"quantitative","scale":{"domain":[-35,130],"range":[188,23]},"axis":null}}},
{"data":{"values":[{"x":29,"y":-40.5,"t":"29"},{"x":30,"y":-40.5,"t":"30"},{"x":31,"y":-40.5,"t":"31"},{"x":32,"y":-40.5,"t":"32"},{"x":33,"y":-40.5,"t":"33"},{"x":34,"y":-40.5,"t":"34"},{"x":35,"y":-40.5,"t":"35"},{"x":36,"y":-40.5,"t":"36"}]},"mark":{"type":"text","font":"Liberation Serif","fontSize":20,"fontWeight":"bold","align":"center","baseline":"top","color":"#231f20"},"encoding":{"y":{"field":"y","type":"quantitative","scale":{"domain":[-35,130],"range":[188,23]},"axis":null},"text":{"field":"t"}}}
]}
]},
{"width":431,"height":348,"resolve":{"scale":{"x":"independent","y":"independent"}},
"layer":[
{"encoding":{"x":{"field":"x","type":"quantitative","scale":{"domain":[20,70]},"axis":{"orient":"bottom","title":null,"values":[20,30,40,50,60,70],"domain":false,"grid":false,"tickSize":-7,"tickColor":"#777777","tickWidth":1.5,"labelFont":"Liberation Serif","labelFontSize":29,"labelFontWeight":"bold","labelColor":"#231f20","labelPadding":18,"labelFlush":false,"labelOverlap":false,"labelBound":false}}},
"layer":[
{"data":{"name":"bl"},"mark":{"type":"line","color":"#ed1c24","strokeWidth":9,"strokeJoin":"round","strokeCap":"round"},"encoding":{"y":{"field":"o","type":"quantitative","scale":{"domain":[-57,291]},"axis":null}}},
{"data":{"name":"bl"},"mark":{"type":"point","filled":true,"color":"#ed1c24","size":95,"opacity":1},"encoding":{"y":{"field":"o","type":"quantitative","scale":{"domain":[-57,291]},"axis":null}}},
{"data":{"name":"bl"},"mark":{"type":"line","color":"#111111","strokeWidth":1.2},"encoding":{"y":{"field":"c","type":"quantitative","scale":{"domain":[-57,291]},"axis":null}}},
{"data":{"name":"bl"},"mark":{"type":"line","color":"#2e3192","strokeWidth":1.2},"encoding":{"y":{"field":"d","type":"quantitative","scale":{"domain":[-57,291]},"axis":null}}},
{"data":{"values":[{"x":22.48,"y":-11},{"x":31.86,"y":-11},{"x":32.17,"y":-11},{"x":37.79,"y":-11},{"x":39.15,"y":-11},{"x":39.6,"y":-11},{"x":45.85,"y":-11},{"x":50.38,"y":-11},{"x":51.47,"y":-11},{"x":51.86,"y":-11},{"x":56.59,"y":-11},{"x":57.29,"y":-11},{"x":60.85,"y":-11},{"x":66.59,"y":-11},{"x":67.24,"y":-11},{"x":69.88,"y":-11}]},"mark":{"type":"tick","orient":"vertical","color":"#3ab54a","thickness":2,"size":7,"opacity":1},"encoding":{"y":{"field":"y","type":"quantitative","scale":{"domain":[-57,291]},"axis":null}}},
{"data":{"values":[{"x":30.21,"y":252,"t":"BY6FMO"}]},"mark":{"type":"text","font":"Liberation Serif","fontSize":25,"fontWeight":"bold","align":"center","baseline":"alphabetic","color":"#231f20"},"encoding":{"y":{"field":"y","type":"quantitative","scale":{"domain":[-57,291]},"axis":null},"text":{"field":"t"}}},
{"data":{"values":[{"x":24.41,"y":217,"t":"χ"}]},"mark":{"type":"text","font":"Liberation Serif","fontSize":28,"align":"left","baseline":"alphabetic","color":"#231f20"},"encoding":{"y":{"field":"y","type":"quantitative","scale":{"domain":[-57,291]},"axis":null},"text":{"field":"t"}}},
{"data":{"values":[{"x":26.38,"y":229,"t":"2"}]},"mark":{"type":"text","font":"Liberation Sans","fontSize":18,"fontWeight":"bold","align":"left","baseline":"alphabetic","color":"#231f20"},"encoding":{"y":{"field":"y","type":"quantitative","scale":{"domain":[-57,291]},"axis":null},"text":{"field":"t"}}},
{"data":{"values":[{"x":27.66,"y":217,"t":"=2.06"}]},"mark":{"type":"text","font":"Liberation Sans","fontSize":26,"fontWeight":"bold","align":"left","baseline":"alphabetic","color":"#231f20"},"encoding":{"y":{"field":"y","type":"quantitative","scale":{"domain":[-57,291]},"axis":null},"text":{"field":"t"}}},
{"data":{"values":[{"x":24.99,"y":180,"t":"= Bi₂Fe₄O₉"}]},"mark":{"type":"text","font":"Liberation Sans","fontSize":21,"fontWeight":"bold","align":"left","baseline":"alphabetic","color":"#231f20"},"encoding":{"y":{"field":"y","type":"quantitative","scale":{"domain":[-57,291]},"axis":null},"text":{"field":"t"}}},
{"data":{"values":[{"x":23.07,"y":173,"t":"*"},{"x":29.0,"y":4,"t":"*"},{"x":37.6,"y":4,"t":"*"}]},"mark":{"type":"text","font":"Liberation Sans","fontSize":22,"fontWeight":"bold","align":"center","baseline":"alphabetic","color":"#231f20"},"encoding":{"y":{"field":"y","type":"quantitative","scale":{"domain":[-57,291]},"axis":null},"text":{"field":"t"}}}
]},
{"encoding":{"x":{"field":"x","type":"quantitative","scale":{"domain":[30,37],"range":[203,413]},"axis":null}},
"layer":[
{"data":{"values":[{"a":30,"b":37,"lo":-47,"hi":126}]},"mark":{"type":"rect","fillOpacity":0,"stroke":"#555555","strokeWidth":1.3},"encoding":{"x":{"field":"a","type":"quantitative","scale":{"domain":[30,37],"range":[203,413]},"axis":null},"x2":{"field":"b"},"y":{"field":"lo","type":"quantitative","scale":{"domain":[-47,126],"range":[188,15]},"axis":null},"y2":{"field":"hi"}}},
{"data":{"name":"bli"},"mark":{"type":"line","color":"#ed1c24","strokeWidth":9,"strokeJoin":"round","strokeCap":"round"},"encoding":{"y":{"field":"o","type":"quantitative","scale":{"domain":[-47,126],"range":[188,15]},"axis":null}}},
{"data":{"name":"bli"},"mark":{"type":"point","filled":true,"color":"#ed1c24","size":95,"opacity":1},"encoding":{"y":{"field":"o","type":"quantitative","scale":{"domain":[-47,126],"range":[188,15]},"axis":null}}},
{"data":{"name":"bli"},"mark":{"type":"line","color":"#111111","strokeWidth":1.2},"encoding":{"y":{"field":"c","type":"quantitative","scale":{"domain":[-47,126],"range":[188,15]},"axis":null}}},
{"data":{"name":"bli"},"mark":{"type":"line","color":"#2e3192","strokeWidth":1.2},"encoding":{"y":{"field":"d","type":"quantitative","scale":{"domain":[-47,126],"range":[188,15]},"axis":null}}},
{"data":{"values":[{"x":31.83,"y":-9},{"x":31.92,"y":-9},{"x":32.19,"y":-9}]},"mark":{"type":"tick","orient":"vertical","color":"#3ab54a","thickness":2,"size":5,"opacity":1},"encoding":{"y":{"field":"y","type":"quantitative","scale":{"domain":[-47,126],"range":[188,15]},"axis":null}}},
{"data":{"values":[{"x":31,"y":-45},{"x":32,"y":-45},{"x":33,"y":-45},{"x":34,"y":-45},{"x":35,"y":-45},{"x":36,"y":-45}]},"mark":{"type":"tick","orient":"vertical","color":"#444444","thickness":1.2,"size":4,"opacity":1},"encoding":{"y":{"field":"y","type":"quantitative","scale":{"domain":[-47,126],"range":[188,15]},"axis":null}}},
{"data":{"values":[{"x":30,"y":-52.5,"t":"30"},{"x":31,"y":-52.5,"t":"31"},{"x":32,"y":-52.5,"t":"32"},{"x":33,"y":-52.5,"t":"33"},{"x":34,"y":-52.5,"t":"34"},{"x":35,"y":-52.5,"t":"35"},{"x":36,"y":-52.5,"t":"36"},{"x":37,"y":-52.5,"t":"37"}]},"mark":{"type":"text","font":"Liberation Serif","fontSize":21,"fontWeight":"bold","align":"center","baseline":"top","color":"#231f20"},"encoding":{"y":{"field":"y","type":"quantitative","scale":{"domain":[-47,126],"range":[188,15]},"axis":null},"text":{"field":"t"}}}
]}
]},
{"width":431,"height":348,"resolve":{"scale":{"x":"independent","y":"independent"}},
"layer":[
{"encoding":{"x":{"field":"x","type":"quantitative","scale":{"domain":[20,70]},"axis":{"orient":"bottom","title":null,"values":[20,30,40,50,60,70],"domain":false,"grid":false,"tickSize":-7,"tickColor":"#777777","tickWidth":1.5,"labelFont":"Liberation Serif","labelFontSize":29,"labelFontWeight":"bold","labelColor":"#231f20","labelPadding":18,"labelFlush":false,"labelOverlap":false,"labelBound":false}}},
"layer":[
{"data":{"name":"br"},"mark":{"type":"line","color":"#ed1c24","strokeWidth":9,"strokeJoin":"round","strokeCap":"round"},"encoding":{"y":{"field":"o","type":"quantitative","scale":{"domain":[-68,280]},"axis":null}}},
{"data":{"name":"br"},"mark":{"type":"point","filled":true,"color":"#ed1c24","size":95,"opacity":1},"encoding":{"y":{"field":"o","type":"quantitative","scale":{"domain":[-68,280]},"axis":null}}},
{"data":{"name":"br"},"mark":{"type":"line","color":"#111111","strokeWidth":1.2},"encoding":{"y":{"field":"c","type":"quantitative","scale":{"domain":[-68,280]},"axis":null}}},
{"data":{"name":"br"},"mark":{"type":"line","color":"#2e3192","strokeWidth":1.2},"encoding":{"y":{"field":"d","type":"quantitative","scale":{"domain":[-68,280]},"axis":null}}},
{"data":{"values":[{"x":22.44,"y":-16},{"x":31.94,"y":-16},{"x":32.2,"y":-16},{"x":37.75,"y":-16},{"x":39.1,"y":-16},{"x":39.57,"y":-16},{"x":45.9,"y":-16},{"x":50.47,"y":-16},{"x":51.5,"y":-16},{"x":51.83,"y":-16},{"x":56.5,"y":-16},{"x":57.2,"y":-16},{"x":60.93,"y":-16},{"x":66.43,"y":-16},{"x":66.8,"y":-16},{"x":67.2,"y":-16}]},"mark":{"type":"tick","orient":"vertical","color":"#3ab54a","thickness":2,"size":7,"opacity":1},"encoding":{"y":{"field":"y","type":"quantitative","scale":{"domain":[-68,280]},"axis":null}}},
{"data":{"values":[{"x":21.2,"y":-33},{"x":23.69,"y":-33},{"x":24.45,"y":-33},{"x":27.94,"y":-33},{"x":29.03,"y":-33},{"x":30.66,"y":-33},{"x":33.76,"y":-33},{"x":34.45,"y":-33},{"x":35.62,"y":-33},{"x":38.33,"y":-33},{"x":44.15,"y":-33},{"x":47.56,"y":-33},{"x":53.17,"y":-33},{"x":54.15,"y":-33},{"x":56.36,"y":-33},{"x":61.66,"y":-33},{"x":63.92,"y":-33}]},"mark":{"type":"tick","orient":"vertical","color":"#c8409f","thickness":1.5,"size":8,"opacity":1},"encoding":{"y":{"field":"y","type":"quantitative","scale":{"domain":[-68,280]},"axis":null}}},
{"data":{"values":[{"x":21.28,"y":250,"t":"BY12FMO"},{"x":21.63,"y":158,"t":"R3c("},{"x":28.95,"y":158,"t":")+Pbam("},{"x":41.81,"y":158,"t":")"},{"x":24.77,"y":126,"t":"= 2.89"}]},"mark":{"type":"text","font":"Liberation Sans","fontSize":26,"fontWeight":"bold","align":"left","baseline":"alphabetic","color":"#231f20"},"encoding":{"y":{"field":"y","type":"quantitative","scale":{"domain":[-68,280]},"axis":null},"text":{"field":"t"}}},
{"data":{"values":[{"x":23.02,"y":219,"t":"= Bi₂Fe₄O₉"}]},"mark":{"type":"text","font":"Liberation Sans","fontSize":21,"fontWeight":"bold","align":"left","baseline":"alphabetic","color":"#231f20"},"encoding":{"y":{"field":"y","type":"quantitative","scale":{"domain":[-68,280]},"axis":null},"text":{"field":"t"}}},
{"data":{"values":[{"x":20.12,"y":195,"t":"# = Bi₂₅FeO₃₉"},{"x":23.37,"y":143,"t":"2"}]},"mark":{"type":"text","font":"Liberation Sans","fontSize":20,"fontWeight":"bold","align":"left","baseline":"alphabetic","color":"#231f20"},"encoding":{"y":{"field":"y","type":"quantitative","scale":{"domain":[-68,280]},"axis":null},"text":{"field":"t"}}},
{"data":{"values":[{"x":21.28,"y":225,"t":"*"},{"x":28.02,"y":14,"t":"*"},{"x":29.03,"y":-2,"t":"*"},{"x":30.35,"y":-2,"t":"*"},{"x":35.43,"y":2,"t":"*"},{"x":52.87,"y":6,"t":"*"},{"x":55.0,"y":12,"t":"*"},{"x":61.59,"y":3,"t":"*"}]},"mark":{"type":"text","font":"Liberation Sans","fontSize":22,"fontWeight":"bold","align":"center","baseline":"alphabetic","color":"#231f20"},"encoding":{"y":{"field":"y","type":"quantitative","scale":{"domain":[-68,280]},"axis":null},"text":{"field":"t"}}},
{"data":{"values":[{"x":33.69,"y":14,"t":"#"},{"x":54.07,"y":9,"t":"#"},{"x":68.6,"y":11,"t":"#"}]},"mark":{"type":"text","font":"Liberation Sans","fontSize":20,"fontWeight":"bold","align":"center","baseline":"alphabetic","color":"#231f20"},"encoding":{"y":{"field":"y","type":"quantitative","scale":{"domain":[-68,280]},"axis":null},"text":{"field":"t"}}},
{"data":{"values":[{"x":28.55,"y":158,"t":"|"}]},"mark":{"type":"text","font":"Liberation Sans","fontSize":26,"align":"center","baseline":"alphabetic","color":"#3ab54a"},"encoding":{"y":{"field":"y","type":"quantitative","scale":{"domain":[-68,280]},"axis":null},"text":{"field":"t"}}},
{"data":{"values":[{"x":41.35,"y":158,"t":"|"}]},"mark":{"type":"text","font":"Liberation Sans","fontSize":26,"align":"center","baseline":"alphabetic","color":"#c8409f"},"encoding":{"y":{"field":"y","type":"quantitative","scale":{"domain":[-68,280]},"axis":null},"text":{"field":"t"}}},
{"data":{"values":[{"x":21.86,"y":126,"t":"χ"}]},"mark":{"type":"text","font":"Liberation Serif","fontSize":28,"align":"left","baseline":"alphabetic","color":"#231f20"},"encoding":{"y":{"field":"y","type":"quantitative","scale":{"domain":[-68,280]},"axis":null},"text":{"field":"t"}}}
]},
{"encoding":{"x":{"field":"x","type":"quantitative","scale":{"domain":[26.5,33],"range":[206,406]},"axis":null}},
"layer":[
{"data":{"values":[{"a":26.5,"b":33,"lo":-43,"hi":125}]},"mark":{"type":"rect","fillOpacity":0,"stroke":"#555555","strokeWidth":1.3},"encoding":{"x":{"field":"a","type":"quantitative","scale":{"domain":[26.5,33],"range":[206,406]},"axis":null},"x2":{"field":"b"},"y":{"field":"lo","type":"quantitative","scale":{"domain":[-43,125],"range":[184,16]},"axis":null},"y2":{"field":"hi"}}},
{"data":{"name":"bri"},"mark":{"type":"line","color":"#ed1c24","strokeWidth":9,"strokeJoin":"round","strokeCap":"round"},"encoding":{"y":{"field":"o","type":"quantitative","scale":{"domain":[-43,125],"range":[184,16]},"axis":null}}},
{"data":{"name":"bri"},"mark":{"type":"point","filled":true,"color":"#ed1c24","size":95,"opacity":1},"encoding":{"y":{"field":"o","type":"quantitative","scale":{"domain":[-43,125],"range":[184,16]},"axis":null}}},
{"data":{"name":"bri"},"mark":{"type":"line","color":"#111111","strokeWidth":1.2},"encoding":{"y":{"field":"c","type":"quantitative","scale":{"domain":[-43,125],"range":[184,16]},"axis":null}}},
{"data":{"name":"bri"},"mark":{"type":"line","color":"#2e3192","strokeWidth":1.2},"encoding":{"y":{"field":"d","type":"quantitative","scale":{"domain":[-43,125],"range":[184,16]},"axis":null}}},
{"data":{"values":[{"x":32.07,"y":-7},{"x":32.37,"y":-7}]},"mark":{"type":"tick","orient":"vertical","color":"#3ab54a","thickness":4,"size":8,"opacity":1},"encoding":{"y":{"field":"y","type":"quantitative","scale":{"domain":[-43,125],"range":[184,16]},"axis":null}}},
{"data":{"values":[{"x":28.09,"y":-19},{"x":28.97,"y":-19},{"x":30.66,"y":-19}]},"mark":{"type":"tick","orient":"vertical","color":"#c8409f","thickness":1.5,"size":11,"opacity":1},"encoding":{"y":{"field":"y","type":"quantitative","scale":{"domain":[-43,125],"range":[184,16]},"axis":null}}},
{"data":{"values":[{"x":28.09,"y":17,"t":"*"}]},"mark":{"type":"text","font":"Liberation Sans","fontSize":18,"fontWeight":"bold","align":"center","baseline":"alphabetic","color":"#231f20"},"encoding":{"y":{"field":"y","type":"quantitative","scale":{"domain":[-43,125],"range":[184,16]},"axis":null},"text":{"field":"t"}}},
{"data":{"values":[{"x":28.97,"y":8,"t":"*"},{"x":30.69,"y":4,"t":"*"}]},"mark":{"type":"text","font":"Liberation Sans","fontSize":22,"fontWeight":"bold","align":"center","baseline":"alphabetic","color":"#231f20"},"encoding":{"y":{"field":"y","type":"quantitative","scale":{"domain":[-43,125],"range":[184,16]},"axis":null},"text":{"field":"t"}}}
]}
]}
]
}]
}
